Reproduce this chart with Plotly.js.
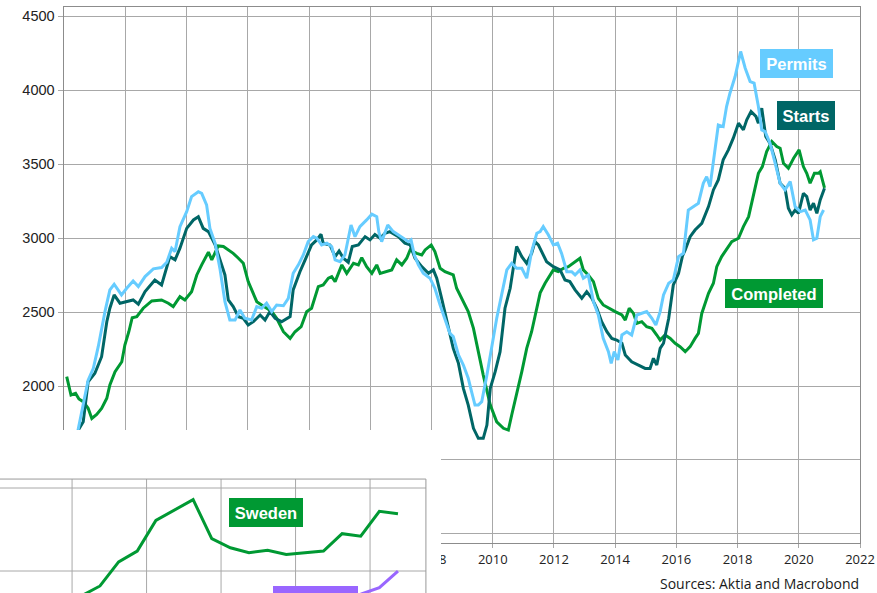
<!DOCTYPE html>
<html><head><meta charset="utf-8">
<script src="https://cdn.plot.ly/plotly-3.0.1.min.js"></script>
<style>html,body{margin:0;padding:0;background:#fff;overflow:hidden}#chart{width:877px;height:593px}</style>
</head><body><div id="chart"></div>
<script>
// ---- Main chart data (decimal years) ----
const permitsX = [1996.00,1996.25,1996.45,1996.78,1996.95,1997.11,1997.33,1997.49,1997.63,1997.87,1998.04,1998.25,1998.42,1998.64,1998.91,1999.18,1999.35,1999.51,1999.62,1999.78,2000.00,2000.16,2000.38,2000.49,2000.65,2000.76,2000.93,2001.09,2001.25,2001.41,2001.58,2001.74,2001.90,2002.12,2002.29,2002.45,2002.61,2002.78,2002.94,2003.16,2003.32,2003.48,2003.65,2003.81,2003.97,2004.14,2004.25,2004.41,2004.58,2004.74,2004.85,2005.01,2005.17,2005.37,2005.50,2005.66,2005.88,2006.05,2006.21,2006.28,2006.37,2006.57,2006.75,2006.92,2007.08,2007.25,2007.33,2007.44,2007.57,2007.73,2007.95,2008.11,2008.28,2008.44,2008.60,2008.71,2008.88,2009.04,2009.20,2009.31,2009.42,2009.53,2009.64,2009.81,2009.97,2010.13,2010.29,2010.46,2010.62,2010.78,2010.95,2011.11,2011.27,2011.44,2011.55,2011.65,2011.82,2011.98,2012.12,2012.25,2012.42,2012.58,2012.69,2012.85,2012.96,2013.12,2013.29,2013.45,2013.61,2013.78,2013.87,2013.97,2014.09,2014.22,2014.38,2014.54,2014.71,2014.87,2015.03,2015.20,2015.33,2015.47,2015.58,2015.75,2015.90,2016.07,2016.23,2016.39,2016.56,2016.72,2016.88,2016.99,2017.10,2017.21,2017.37,2017.53,2017.64,2017.75,2017.92,2018.10,2018.25,2018.41,2018.54,2018.68,2018.79,2018.90,2019.06,2019.23,2019.39,2019.55,2019.72,2019.88,2020.05,2020.21,2020.37,2020.48,2020.59,2020.70,2020.81];
const permitsY = [1450,1560,1702,2040,2120,2266,2503,2650,2688,2616,2661,2710,2672,2740,2792,2801,2837,2932,2909,3078,3179,3281,3314,3303,3225,3066,2965,2790,2570,2446,2446,2514,2458,2446,2537,2526,2560,2503,2548,2543,2593,2762,2819,2886,2976,3010,3000,2954,2966,2943,2853,2841,2886,3089,3010,3078,3123,3162,3145,3040,2976,3089,3044,3021,2999,2976,2988,2886,2819,2762,2729,2661,2548,2458,2356,2334,2210,2142,2052,1961,1871,1871,1894,2074,2277,2458,2616,2785,2830,2796,2796,2729,2909,3033,3044,3078,3021,2954,2966,2897,2773,2773,2751,2785,2729,2751,2570,2480,2322,2232,2153,2232,2176,2345,2367,2345,2480,2491,2503,2458,2413,2503,2616,2695,2717,2875,2897,3190,3213,3236,3371,3416,3348,3506,3765,3754,3890,3980,4093,4262,4149,4059,4048,3890,3732,3721,3641,3506,3371,3326,3382,3213,3179,3190,3123,2988,2999,3145,3190];

const startsX = [1996.00,1996.25,1996.46,1996.62,1996.78,1997.00,1997.22,1997.39,1997.49,1997.63,1997.82,1998.04,1998.25,1998.42,1998.64,1998.96,1999.18,1999.45,1999.62,1999.78,2000.00,2000.22,2000.38,2000.54,2000.71,2000.93,2001.09,2001.25,2001.36,2001.52,2001.69,2001.85,2002.01,2002.18,2002.40,2002.56,2002.72,2002.89,2003.10,2003.38,2003.48,2003.70,2003.87,2004.08,2004.25,2004.39,2004.46,2004.68,2004.85,2004.98,2005.12,2005.28,2005.41,2005.61,2005.83,2005.99,2006.15,2006.32,2006.48,2006.64,2006.92,2007.13,2007.30,2007.46,2007.68,2007.90,2008.06,2008.17,2008.33,2008.50,2008.71,2008.88,2009.04,2009.20,2009.37,2009.53,2009.69,2009.81,2009.92,2010.08,2010.24,2010.40,2010.57,2010.78,2010.95,2011.11,2011.27,2011.38,2011.49,2011.76,2011.98,2012.20,2012.36,2012.52,2012.69,2012.91,2013.07,2013.24,2013.40,2013.56,2013.73,2013.89,2014.05,2014.22,2014.33,2014.54,2014.76,2014.98,2015.14,2015.25,2015.36,2015.47,2015.58,2015.75,2015.90,2016.07,2016.20,2016.29,2016.45,2016.61,2016.83,2017.05,2017.21,2017.37,2017.53,2017.70,2017.86,2018.03,2018.19,2018.30,2018.44,2018.60,2018.68,2018.79,2018.92,2019.06,2019.23,2019.39,2019.55,2019.66,2019.77,2019.88,2019.99,2020.15,2020.26,2020.37,2020.48,2020.59,2020.70,2020.84];
const startsY = [1450,1560,1702,1758,2029,2086,2198,2435,2526,2616,2560,2570,2582,2553,2638,2717,2683,2875,2853,2932,3066,3123,3145,3066,3044,2954,2852,2751,2582,2537,2469,2458,2413,2435,2480,2446,2503,2458,2435,2469,2650,2773,2853,2954,2988,3026,2966,2954,2875,2913,2864,2837,2943,2954,3010,2988,3025,2999,3033,3044,3010,2966,2954,2864,2807,2762,2785,2729,2593,2435,2254,2153,1984,1871,1714,1646,1646,1736,1984,2097,2232,2526,2661,2943,2875,2830,2897,2976,2954,2841,2807,2785,2717,2706,2650,2593,2638,2593,2526,2435,2367,2322,2311,2289,2210,2164,2142,2119,2119,2187,2142,2254,2289,2458,2683,2760,2880,2920,3010,3055,3100,3213,3326,3394,3529,3597,3676,3777,3732,3800,3856,3823,3777,3879,3687,3641,3529,3371,3337,3202,3157,3190,3168,3303,3281,3190,3236,3168,3258,3337];

const completedX = [1996.08,1996.22,1996.37,1996.48,1996.62,1996.78,1996.90,1997.06,1997.22,1997.39,1997.49,1997.66,1997.88,1997.98,1998.11,1998.22,1998.37,1998.58,1998.86,1999.18,1999.40,1999.56,1999.78,1999.94,2000.16,2000.33,2000.49,2000.71,2000.82,2001.03,2001.20,2001.36,2001.52,2001.69,2001.85,2002.01,2002.18,2002.29,2002.45,2002.61,2002.78,2002.94,2003.16,2003.38,2003.54,2003.74,2003.92,2004.08,2004.19,2004.30,2004.46,2004.63,2004.74,2004.85,2005.07,2005.23,2005.45,2005.61,2005.72,2005.88,2006.05,2006.21,2006.32,2006.54,2006.70,2006.86,2007.03,2007.19,2007.30,2007.52,2007.68,2007.79,2007.99,2008.11,2008.28,2008.44,2008.71,2008.82,2009.04,2009.20,2009.37,2009.53,2009.69,2009.92,2010.13,2010.35,2010.51,2010.62,2010.78,2010.95,2011.11,2011.27,2011.38,2011.55,2011.71,2011.87,2011.98,2012.14,2012.31,2012.47,2012.63,2012.85,2012.96,2013.12,2013.29,2013.45,2013.61,2013.78,2014.00,2014.22,2014.33,2014.46,2014.60,2014.71,2014.87,2015.03,2015.20,2015.36,2015.47,2015.63,2015.80,2015.96,2016.12,2016.29,2016.45,2016.61,2016.72,2016.83,2016.94,2017.05,2017.21,2017.32,2017.48,2017.64,2017.81,2018.03,2018.19,2018.36,2018.52,2018.68,2018.81,2018.95,2019.12,2019.28,2019.39,2019.50,2019.66,2019.83,2020.01,2020.15,2020.26,2020.37,2020.51,2020.64,2020.70,2020.84];
const completedY = [2063,1939,1950,1912,1894,1849,1781,1808,1849,1917,2007,2097,2164,2277,2367,2462,2469,2526,2575,2582,2560,2537,2604,2582,2638,2751,2819,2905,2853,2947,2943,2920,2897,2864,2830,2706,2627,2570,2548,2526,2503,2458,2367,2322,2367,2401,2503,2526,2593,2672,2683,2729,2740,2706,2819,2762,2830,2819,2868,2807,2762,2819,2762,2773,2785,2853,2819,2864,2920,2897,2886,2920,2954,2909,2796,2773,2751,2661,2570,2503,2390,2232,2074,1871,1758,1714,1702,1804,1939,2097,2254,2367,2470,2630,2695,2751,2785,2773,2796,2807,2830,2864,2785,2751,2706,2593,2548,2526,2503,2480,2446,2526,2491,2424,2435,2401,2390,2345,2311,2345,2322,2289,2266,2232,2266,2322,2356,2491,2560,2627,2695,2807,2875,2920,2976,2999,3078,3145,3303,3438,3484,3585,3653,3619,3608,3506,3472,3540,3597,3484,3438,3371,3438,3438,3449,3340];

const xTickVals = [1996,1998,2000,2002,2004,2006,2008,2010,2012,2014,2016,2018,2020,2022];
const yTickVals = [1000,1500,2000,2500,3000,3500,4000,4500];

// ---- Inset chart data (annual, plotted mid-year; arbitrary index units) ----
const swedenYears = [2000,2001,2002,2003,2004,2005,2006,2007,2008,2009,2010,2011,2012,2013,2014,2015,2016,2017];
const swedenVals  = [70,82,111,124,161,173,186,139,128,122,125,120,122,124,145,142,172,169];
const purpleYears = [2015,2016,2017];
const purpleVals  = [72,80,100];
const insetGridX = [2000,2004,2008,2012,2016];
const insetGridY = [100,200];

const W = 877, H = 593;
const fx = p => p / W;
const fy = p => 1 - p / H;
const mid = arr => arr.map(v => v + 0.5);

const GRID = '#a8a8a8';
const traces = [
  {x: completedX, y: completedY, type:'scatter', mode:'lines', line:{color:'#009933', width:3}, xaxis:'x', yaxis:'y', hoverinfo:'skip'},
  {x: startsX, y: startsY, type:'scatter', mode:'lines', line:{color:'#006666', width:3}, xaxis:'x', yaxis:'y', hoverinfo:'skip'},
  {x: permitsX, y: permitsY, type:'scatter', mode:'lines', line:{color:'#66ccff', width:3}, xaxis:'x', yaxis:'y', hoverinfo:'skip'},
  {x: mid(swedenYears), y: swedenVals, type:'scatter', mode:'lines', line:{color:'#009933', width:3}, xaxis:'x2', yaxis:'y2', hoverinfo:'skip'},
  {x: mid(purpleYears), y: purpleVals, type:'scatter', mode:'lines', line:{color:'#9966ff', width:3}, xaxis:'x2', yaxis:'y2', hoverinfo:'skip'}
];

const shapes = [];
insetGridX.forEach(g => shapes.push({type:'line', xref:'x2', yref:'y2', x0:g, x1:g, y0:40, y1:210.8, line:{color:GRID, width:1}, layer:'below'}));
insetGridY.forEach(g => shapes.push({type:'line', xref:'x2', yref:'y2', x0:1990, x1:2019, y0:g, y1:g, line:{color:GRID, width:1}, layer:'below'}));
shapes.push({type:'line', xref:'x2', yref:'y2', x0:1990, x1:2019, y0:210.8, y1:210.8, line:{color:'#999', width:1}, layer:'below'});
shapes.push({type:'line', xref:'x2', yref:'y2', x0:2019, x1:2019, y0:40, y1:210.8, line:{color:'#999', width:1}, layer:'below'});
// purple label box (cut off at the bottom edge)
shapes.push({type:'rect', xref:'paper', yref:'paper', x0:fx(273), x1:fx(358), y0:fy(620), y1:fy(586), fillcolor:'#9966ff', line:{width:0}, layer:'above'});

function label(text, x0, x1, y0, y1, bg) {
  return {text:text, xref:'paper', yref:'paper', x:fx((x0+x1)/2), y:fy((y0+y1)/2), xanchor:'center', yanchor:'middle',
    showarrow:false, bgcolor:bg, borderpad:0, borderwidth:0, width:x1-x0, height:y1-y0,
    font:{family:'Liberation Sans, Arial, sans-serif', size:16.5, color:'#ffffff', weight:'bold'}};
}
const annotations = [
  label('Permits', 760, 833, 49, 78, '#66ccff'),
  label('Starts', 777, 835, 101, 130, '#006666'),
  label('Completed', 725, 823, 279, 308, '#009933'),
  label('Sweden', 229, 303, 498, 527, '#009933'),
  {text:'Sources: Aktia and Macrobond', xref:'paper', yref:'paper', x:fx(861), y:fy(583), xanchor:'right', yanchor:'middle', showarrow:false,
   font:{family:'Open Sans, sans-serif', size:14, color:'#1a1a1a'}}
];

const layout = {
  width:W, height:H, margin:{l:0, r:0, t:0, b:0}, showlegend:false,
  paper_bgcolor:'#ffffff', plot_bgcolor:'#ffffff',
  xaxis:{domain:[fx(63.5), fx(860)], range:[1995.975, 2022], tickvals:xTickVals, ticktext:xTickVals.map(String),
    showgrid:true, gridcolor:GRID, gridwidth:1, zeroline:false, showline:true, linecolor:'#8c8c8c', linewidth:1, mirror:true,
    ticks:'outside', ticklen:4, tickcolor:GRID, tickfont:{family:'Open Sans, sans-serif', size:13, color:'#222'},
    automargin:false, fixedrange:true, anchor:'y'},
  yaxis:{domain:[1 - 543/H, 1 - 7/H], range:[938.3, 4563], tickvals:yTickVals, ticktext:yTickVals.map(String),
    showgrid:true, gridcolor:GRID, gridwidth:1, zeroline:false, showline:true, linecolor:'#8c8c8c', linewidth:1, mirror:true,
    ticks:'outside', ticklen:5, tickcolor:GRID, tickfont:{family:'Liberation Sans, Arial, sans-serif', size:14.5, color:'#222'},
    automargin:false, fixedrange:true, anchor:'x'},
  xaxis2:{domain:[0, fx(441)], range:[1996.13, 2019.81], showgrid:false, zeroline:false, showline:false, showticklabels:false, ticks:'', anchor:'y2', fixedrange:true},
  yaxis2:{domain:[0, 163/H], range:[73.5, 269.9], showgrid:false, zeroline:false, showline:false, showticklabels:false, ticks:'', anchor:'x2', fixedrange:true},
  shapes:shapes, annotations:annotations
};

Plotly.newPlot('chart', traces, layout, {displayModeBar:false, staticPlot:true});
</script></body></html>
